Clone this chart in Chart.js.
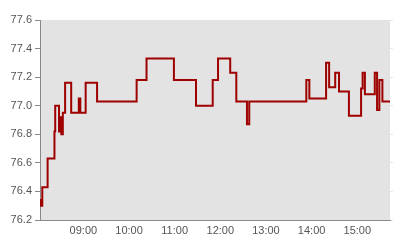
<!DOCTYPE html>
<html>
<head>
<meta charset="utf-8">
<script src="https://cdn.jsdelivr.net/npm/chart.js@4/dist/chart.umd.min.js"></script>
<style>
  html, body { margin: 0; padding: 0; background: #fff; }
  #wrap { width: 400px; height: 240px; }
</style>
</head>
<body>
<div id="wrap"><canvas id="chart"></canvas></div>
<script>
// step points: value holds from this time until the next one
const times = ['08:03','08:04','08:06','08:13','08:22','08:23','08:28','08:30','08:31','08:33',
  '08:36','08:44','08:54','08:56','09:03','09:18','10:10','10:23','10:59','11:28',
  '11:50','11:57','12:13','12:21','12:35','12:38','13:53','13:57','14:19','14:23',
  '14:31','14:36','14:49','15:05','15:07','15:10','15:23','15:26','15:29','15:33','15:43'];
const values = [76.34,76.30,76.43,76.63,76.82,77.00,76.82,76.92,76.80,76.95,
  77.16,76.95,77.05,76.95,77.16,77.03,77.18,77.33,77.18,77.00,
  77.18,77.33,77.23,77.03,76.87,77.03,77.18,77.05,77.30,77.13,
  77.23,77.10,76.93,77.12,77.23,77.08,77.23,76.97,77.18,77.03,77.03];
const hourTicks = ['09:00','10:00','11:00','12:00','13:00','14:00','15:00'];
const yMin = 76.2, yMax = 77.6;

function toMin(s) { const p = s.split(':'); return (+p[0] - 8) * 60 + (+p[1]); }
function fmtTime(m) {
  const h = 8 + Math.floor(m / 60), mm = Math.round(m % 60);
  return String(h).padStart(2, '0') + ':' + String(mm).padStart(2, '0');
}

const pts = times.map((t, i) => ({ x: toMin(t), y: values[i] }));

const plotBg = {
  id: 'plotBg',
  beforeDraw(chart) {
    const { ctx, chartArea: a } = chart;
    ctx.save();
    ctx.fillStyle = '#e3e3e3';
    ctx.fillRect(a.left, a.top, a.right - a.left, a.bottom - a.top);
    ctx.restore();
  }
};

const font = { family: 'Liberation Sans, Arial, sans-serif', size: 11 };

new Chart(document.getElementById('chart'), {
  type: 'line',
  data: {
    datasets: [{
      data: pts,
      stepped: true,
      borderColor: '#9e0000',
      borderWidth: 2,
      pointRadius: 0,
      fill: false
    }]
  },
  options: {
    responsive: true,
    maintainAspectRatio: false,
    animation: false,
    layout: { padding: { top: 20, right: 0, left: 0, bottom: 0 } },
    plugins: { legend: { display: false }, tooltip: { enabled: false } },
    scales: {
      x: {
        type: 'linear',
        min: toMin(times[0]),
        max: toMin(times[times.length - 1]),
        afterBuildTicks: axis => { axis.ticks = hourTicks.map(t => ({ value: toMin(t) })); },
        ticks: { color: '#555', font, padding: 4, maxRotation: 0, callback: v => fmtTime(v) },
        grid: { drawOnChartArea: false, drawTicks: false },
        border: { color: '#888', width: 1 },
        afterFit: axis => { axis.height = 20; }
      },
      y: {
        min: yMin,
        max: yMax,
        ticks: {
          stepSize: 0.1,
          color: '#555',
          font,
          padding: 3,
          callback: v => (Math.round(v * 10) % 2 === 0 ? v.toFixed(1) : '')
        },
        grid: { drawOnChartArea: false, tickLength: 5, color: '#888' },
        border: { color: '#888', width: 1 },
        afterFit: axis => { axis.width = 40; }
      },
      y2: {
        position: 'right',
        min: yMin,
        max: yMax,
        ticks: { stepSize: 0.2, display: false },
        grid: { drawOnChartArea: false, tickLength: 3, color: '#e8e8e8' },
        border: { display: false },
        afterFit: axis => { axis.width = 10; }
      }
    }
  },
  plugins: [plotBg]
});
</script>
</body>
</html>
